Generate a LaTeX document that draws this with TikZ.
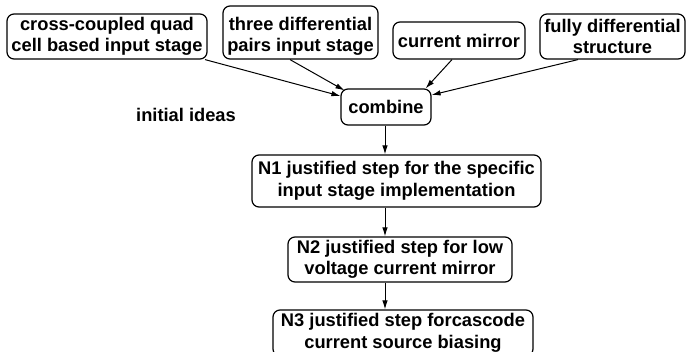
\documentclass[tikz,border=0pt]{standalone}
\usepackage{fontspec}
\setmainfont{Liberation Sans}
\usetikzlibrary{arrows.meta}
\tikzset{
  idea/.style={draw, line width=1.2pt, rounded corners=7pt, align=center,
    inner sep=0pt, font=\bfseries\fontsize{18.3}{21.5}\selectfont},
  plain/.style={align=center, inner sep=0pt, font=\bfseries\fontsize{18.3}{21.5}\selectfont},
  flow/.style={line width=1pt, -{Latex[length=9pt,width=5.5pt]}}
}
\begin{document}
\begin{tikzpicture}[x=1pt, y=-1pt]
  \clip (0,0) rectangle (686,352);
  % source ideas
  \node[idea, minimum width=200pt, minimum height=45pt] (b1) at (107,36.5)
    {cross-coupled quad\\cell based input stage};
  \node[idea, minimum width=155pt, minimum height=53pt] (b2) at (300.5,32.5) {};
  \node[plain] (b2text) at (300.5,36.5) {three differential\\pairs input stage};
  \node[idea, minimum width=132pt, minimum height=37pt] (b3) at (459,40.5)
    {current mirror};
  \node[idea, minimum width=145pt, minimum height=45pt] (b4) at (612.5,36.5)
    {fully differential\\structure};
  \node[plain] (lbl) at (186,115) {initial ideas};
  % combination and refinement steps
  \node[idea, minimum width=90pt, minimum height=36pt] (comb) at (386,107) {combine};
  \node[idea, minimum width=289pt, minimum height=52pt] (n1) at (396.5,181)
    {N1 justified step for the specific\\input stage implementation};
  \node[idea, minimum width=224pt, minimum height=45pt] (n2) at (400,259.5)
    {N2 justified step for low\\voltage current mirror\hspace{12pt}};
  \node[idea, minimum width=260pt, minimum height=46pt] (n3) at (403,333)
    {N3 justified step forcascode\\current source biasing\hspace{12pt}};
  % connectors
  \draw[flow] ([xshift=98pt]b1.south) -- ([yshift=11pt]comb.west);
  \draw[flow] ([xshift=-10.5pt]b2.south) -- ([xshift=4pt,yshift=-2pt]comb.north west);
  \draw[flow] ([xshift=-7pt]b3.south) -- ([xshift=-6pt]comb.north east);
  \draw[flow] ([xshift=-34.5pt]b4.south) -- ([yshift=12pt]comb.east);
  \draw[flow] ([xshift=-1pt]comb.south) -- ([xshift=-1pt]comb.south |- n1.north);
  \draw[flow] ([xshift=-1pt]comb.south |- n1.south) -- ([xshift=-1pt]comb.south |- n2.north);
  \draw[flow] ([xshift=-1pt]comb.south |- n2.south) -- ([xshift=-1pt]comb.south |- n3.north);
\end{tikzpicture}
\end{document}
